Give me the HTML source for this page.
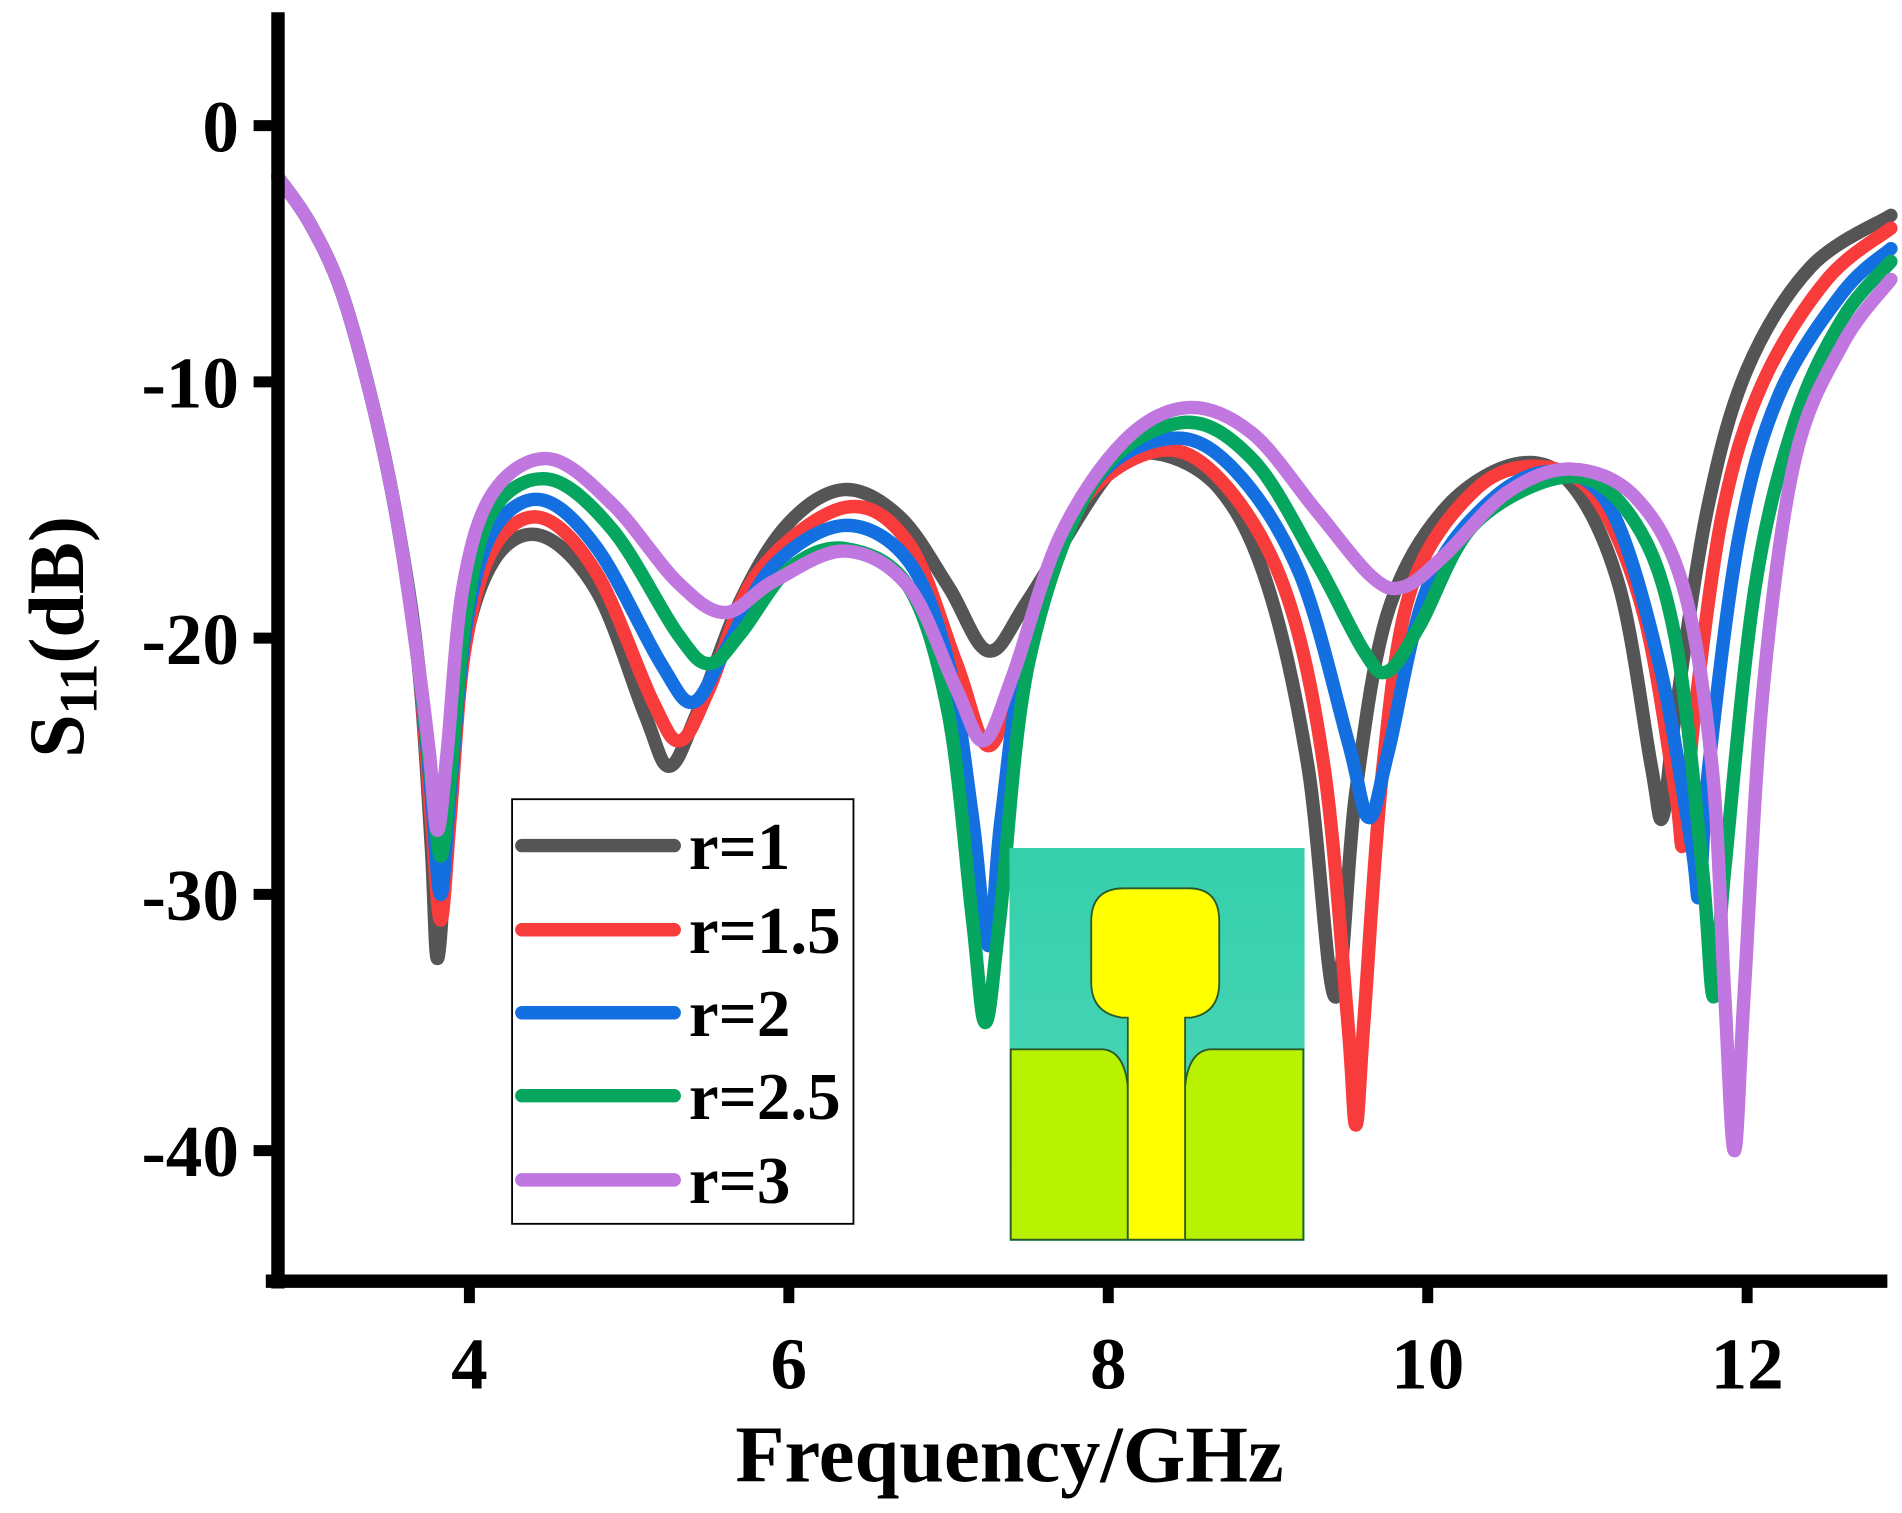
<!DOCTYPE html>
<html><head><meta charset="utf-8"><style>
html,body{margin:0;padding:0;background:#fff;}
svg{display:block}
text{font-family:"Liberation Serif",serif;font-weight:bold;fill:#000}
</style></head><body>
<svg id="s" width="1902" height="1513" viewBox="0 0 1560 1240" preserveAspectRatio="none" xmlns="http://www.w3.org/2000/svg">
<defs><linearGradient id="tg" x1="0" y1="0" x2="0" y2="1"><stop offset="0" stop-color="#35cfac"/><stop offset="1" stop-color="#50d8b8"/></linearGradient></defs>
<g id="curves" fill="none" stroke-width="11" stroke-linecap="round" stroke-linejoin="round"></g>
<line x1="228" y1="10" x2="228" y2="1056" stroke="#000" stroke-width="11"/>
<line x1="218" y1="1050" x2="1548" y2="1050" stroke="#000" stroke-width="11"/>
<g stroke="#000" stroke-width="9">
<line x1="208" y1="103" x2="228" y2="103"/><line x1="208" y1="313" x2="228" y2="313"/><line x1="208" y1="523" x2="228" y2="523"/><line x1="208" y1="733" x2="228" y2="733"/><line x1="208" y1="943" x2="228" y2="943"/>
<line x1="385" y1="1050" x2="385" y2="1068"/><line x1="647" y1="1050" x2="647" y2="1068"/><line x1="909" y1="1050" x2="909" y2="1068"/><line x1="1171" y1="1050" x2="1171" y2="1068"/><line x1="1433" y1="1050" x2="1433" y2="1068"/>
</g>
<g font-size="60" text-anchor="end">
<text x="196" y="124">0</text><text x="196" y="334">-10</text><text x="196" y="544">-20</text><text x="196" y="754">-30</text><text x="196" y="964">-40</text>
</g>
<g font-size="60" text-anchor="middle">
<text x="385" y="1138">4</text><text x="647" y="1138">6</text><text x="909" y="1138">8</text><text x="1171" y="1138">10</text><text x="1433" y="1138">12</text>
</g>
<text x="828" y="1214" font-size="66" text-anchor="middle">Frequency/GHz</text>
<text transform="translate(68,522) rotate(-90)" font-size="64" text-anchor="middle">S<tspan font-size="44" dy="11">11</tspan><tspan dy="-11">(dB)</tspan></text>
<rect x="420" y="655" width="280" height="348" fill="#fff" stroke="#000" stroke-width="1.5"/>
<g stroke-width="11" stroke-linecap="round">
<line x1="428" y1="693" x2="553" y2="693" stroke="#555"/>
<line x1="428" y1="762" x2="553" y2="762" stroke="#f83b3b"/>
<line x1="428" y1="830" x2="553" y2="830" stroke="#1470e0"/>
<line x1="428" y1="898" x2="553" y2="898" stroke="#06a65e"/>
<line x1="428" y1="967" x2="553" y2="967" stroke="#c077e0"/>
</g>
<g font-size="55"><text x="565" y="712">r=1</text><text x="565" y="781">r=1.5</text><text x="565" y="849">r=2</text><text x="565" y="917">r=2.5</text><text x="565" y="986">r=3</text></g>
<rect x="828" y="695" width="242" height="322" fill="url(#tg)"/>
<path d="M829,860 L905,860 Q922,862 925,890 L925,1016 L829,1016 Z" fill="#b8f200" stroke="#2a5a2a" stroke-width="1.5"/>
<path d="M1069,860 L992,860 Q975,862 972,890 L972,1016 L1069,1016 Z" fill="#b8f200" stroke="#2a5a2a" stroke-width="1.5"/>
<path d="M925,1016 L925,834 L920,834 Q895,830 895,805 L895,755 Q895,728 922,728 L975,728 Q1000,728 1000,755 L1000,805 Q1000,830 977,834 L972,834 L972,1016 Z" fill="#ffff00" stroke="#2a5a2a" stroke-width="1.5"/>
</svg>
<script>
function X(f){return 385+131*(f-4)}function Y(v){return 103-21*v}
var common=[[2.8,-2],[3.0,-3.8],[3.2,-6.5],[3.4,-11],[3.55,-15.5],[3.68,-21]];
var S=[
["#555",[[3.76,-28],[3.8,-32.5],[3.86,-28],[3.95,-21],[4.15,-17],[4.45,-16],[4.8,-18.2],[5.1,-23],[5.25,-25],[5.42,-23],[5.7,-18.5],[6.0,-15.5],[6.35,-14.2],[6.7,-15.3],[7.0,-18],[7.25,-20.5],[7.5,-18.5],[8.0,-13.6],[8.3,-12.8],[8.7,-14.2],[9.0,-18],[9.25,-25],[9.42,-34],[9.55,-26],[9.75,-19],[10.1,-15],[10.55,-13.2],[10.9,-14],[11.2,-18],[11.4,-25],[11.47,-27],[11.55,-23],[11.75,-15],[12.0,-9.5],[12.4,-5.5],[12.9,-3.5]]],
["#f83b3b",[[3.76,-27],[3.82,-31],[3.88,-27],[3.97,-20.5],[4.15,-16.5],[4.45,-15.3],[4.8,-17.5],[5.15,-22.5],[5.32,-24],[5.5,-22],[5.8,-17.5],[6.35,-14.9],[6.75,-16.3],[7.05,-21],[7.25,-24.2],[7.45,-21],[7.8,-15],[8.3,-12.7],[8.7,-13.8],[9.1,-18],[9.35,-25],[9.5,-35],[9.55,-39],[9.6,-35],[9.72,-25],[9.9,-18],[10.3,-14.2],[10.7,-13.3],[11.05,-14.5],[11.35,-19],[11.55,-26],[11.6,-28],[11.67,-23],[11.85,-15],[12.1,-10],[12.5,-6],[12.9,-4]]],
["#1470e0",[[3.76,-26],[3.82,-30],[3.88,-26],[3.98,-19.5],[4.15,-15.8],[4.45,-14.6],[4.8,-16.5],[5.2,-21],[5.4,-22.5],[5.6,-20.5],[5.9,-17.2],[6.35,-15.6],[6.75,-17],[7.0,-21],[7.15,-27],[7.25,-32],[7.33,-27],[7.5,-20],[7.9,-14],[8.4,-12.2],[8.8,-13.5],[9.2,-17.5],[9.5,-24],[9.63,-27],[9.75,-24.5],[10.0,-18],[10.4,-14.6],[10.8,-13.5],[11.15,-15],[11.45,-21],[11.65,-28],[11.7,-30],[11.76,-25],[11.95,-16],[12.2,-10.5],[12.6,-6.5],[12.9,-4.8]]],
["#06a65e",[[3.76,-25.5],[3.82,-28.5],[3.88,-25.5],[3.98,-19],[4.15,-15],[4.5,-13.8],[4.9,-15.8],[5.3,-19.8],[5.5,-21],[5.7,-19.8],[6.0,-17.3],[6.35,-16.5],[6.75,-18],[7.0,-23],[7.15,-31],[7.23,-35],[7.32,-31],[7.5,-21],[7.9,-14],[8.45,-11.6],[8.9,-13],[9.3,-17],[9.6,-20.5],[9.75,-21.3],[9.95,-19.5],[10.3,-15.5],[10.9,-13.7],[11.3,-15.5],[11.55,-20],[11.72,-29],[11.79,-34],[11.86,-29],[12.05,-18],[12.3,-11.5],[12.6,-7.5],[12.9,-5.3]]],
["#c077e0",[[3.75,-24.5],[3.8,-27.5],[3.86,-24.5],[3.96,-18],[4.15,-14.3],[4.5,-13],[4.9,-14.8],[5.3,-17.8],[5.6,-19],[5.9,-17.8],[6.35,-16.6],[6.75,-18],[7.05,-22],[7.22,-24],[7.4,-21.5],[7.7,-16],[8.1,-12.3],[8.5,-11],[8.9,-12],[9.3,-15],[9.65,-17.6],[9.85,-18],[10.1,-16.8],[10.5,-14.3],[10.9,-13.4],[11.3,-14.5],[11.6,-18],[11.78,-25],[11.86,-34],[11.92,-40],[11.98,-34],[12.1,-22],[12.3,-13],[12.6,-8.5],[12.9,-6]]]
];
function path(p){var q=p.map(function(a){return[X(a[0]),Y(a[1])]});var d="M"+q[0][0]+","+q[0][1];
for(var i=0;i<q.length-1;i++){var p0=q[i-1]||q[i],p1=q[i],p2=q[i+1],p3=q[i+2]||p2;
d+=" C"+(p1[0]+(p2[0]-p0[0])/6)+","+(p1[1]+(p2[1]-p0[1])/6)+" "+(p2[0]-(p3[0]-p1[0])/6)+","+(p2[1]-(p3[1]-p1[1])/6)+" "+p2[0]+","+p2[1];}return d;}
var g=document.getElementById("curves"),h="";
S.forEach(function(s){h+='<path stroke="'+s[0]+'" d="'+path(common.concat(s[1]))+'"/>';});
g.innerHTML=h;
</script>
</body></html>
